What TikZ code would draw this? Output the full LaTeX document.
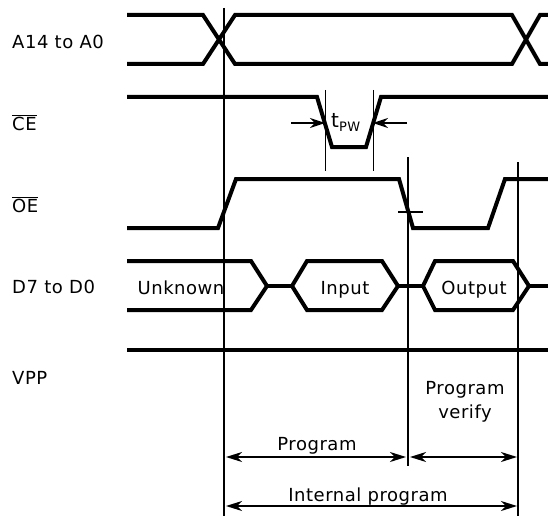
\documentclass[tikz,border=0pt]{standalone}
\usepackage{fontspec}
\setmainfont{DejaVu Sans}[LetterSpace=3]
\usetikzlibrary{arrows.meta}
\begin{document}
\begin{tikzpicture}[x=1pt,y=-1pt,
  sig/.style={line width=4pt, line join=miter},
  guide/.style={line width=1.6pt},
  fine/.style={line width=1pt},
  lbl/.style={anchor=base west, inner sep=0pt, font=\fontsize{18}{24}\selectfont},
  ctr/.style={anchor=base, inner sep=0pt, font=\fontsize{18}{24}\selectfont, align=center},
  dimarrow/.style={line width=1.5pt, {Stealth[length=16pt,width=10pt,inset=5pt]}-{Stealth[length=16pt,width=10pt,inset=5pt]}},
  onearrow/.style={line width=1.5pt, -{Stealth[length=15pt,width=10pt,inset=5pt]}},
]
\useasboundingbox (0,0) rectangle (548,516);

% signal labels
\node[lbl] (la) at (12,49) {A14 to A0};
\node[lbl] (lce) at (12,130) {$\overline{\hbox{CE}}$};
\node[lbl] (loe) at (12,212) {$\overline{\hbox{OE}}$};
\node[lbl] (ld) at (12,293) {D7 to D0};
\node[lbl] (lv) at (12,384) {VPP};

% guide lines
\coordinate (g1t) at (224,8);   \coordinate (g1b) at (224,516);
\coordinate (g2t) at (408,157); \coordinate (g2b) at (408,466);
\coordinate (g3t) at (518,162); \coordinate (g3b) at (518,516);
\draw[guide] (g1t) -- (g1b);
\draw[guide] (g2t) -- (g2b);
\draw[guide] (g3t) -- (g3b);
\coordinate (tk1) at (398,212); \coordinate (tk2) at (423,212);
\draw[guide] (tk1) -- (tk2);

% address
\draw[sig] (127,15) -- (203,15) -- (235,64) -- (512,64) -- (540,15) -- (548,15);
\draw[sig] (127,64) -- (203,64) -- (235,15) -- (512,15) -- (540,64) -- (548,64);

% CE
\draw[sig] (127,97) -- (317,97) -- (332,147) -- (366,147) -- (381,97) -- (548,97);
\coordinate (m1t) at (325,90); \coordinate (m1b) at (325,171);
\coordinate (m2t) at (373,90); \coordinate (m2b) at (373,171);
\draw[fine] (m1t) -- (m1b);
\draw[fine] (m2t) -- (m2b);
\coordinate (a1s) at (291,123); \coordinate (a1e) at (325,123);
\coordinate (a2s) at (407,123); \coordinate (a2e) at (373,123);
\draw[onearrow] (a1s) -- (a1e);
\draw[onearrow] (a2s) -- (a2e);
\node[anchor=base west, inner sep=0pt] (tpw) at (331,127)
  {\fontsize{20}{22}\selectfont t\raisebox{-5pt}{\fontsize{13}{15}\selectfont PW}};

% OE
\draw[sig] (127,228) -- (218,228) -- (236,179) -- (399,179) -- (413,228) -- (488,228) -- (505,179) -- (548,179);

% data
\draw[sig] (127,261) -- (251,261) -- (267,286) -- (251,310) -- (127,310);
\draw[sig] (267,286) -- (292,286);
\draw[sig] (292,286) -- (307,261) -- (382,261) -- (398,286) -- (382,310) -- (307,310) -- cycle;
\draw[sig] (398,286) -- (423,286);
\draw[sig] (423,286) -- (435,261) -- (513,261) -- (529,286) -- (513,310) -- (435,310) -- cycle;
\draw[sig] (529,286) -- (548,286);
\node[ctr] (unk) at (181,294) {Unknown};
\node[ctr] (inp) at (345,294) {Input};
\node[ctr] (outp) at (474,294) {Output};

% VPP
\draw[sig] (127,350) -- (548,350);

% intervals
\coordinate (p1) at (226,457); \coordinate (p2) at (406,457);
\coordinate (v1) at (410,457); \coordinate (v2) at (517,457);
\coordinate (i1) at (226,506); \coordinate (i2) at (517,506);
\draw[dimarrow] (p1) -- (p2);
\draw[dimarrow] (v1) -- (v2);
\draw[dimarrow] (i1) -- (i2);
\node[ctr] (prog) at (317,450) {Program};
\node[ctr] (ver) at (465,418) {Program\\verify};
\node[ctr] (intp) at (368,501) {Internal program};
\end{tikzpicture}
\end{document}
